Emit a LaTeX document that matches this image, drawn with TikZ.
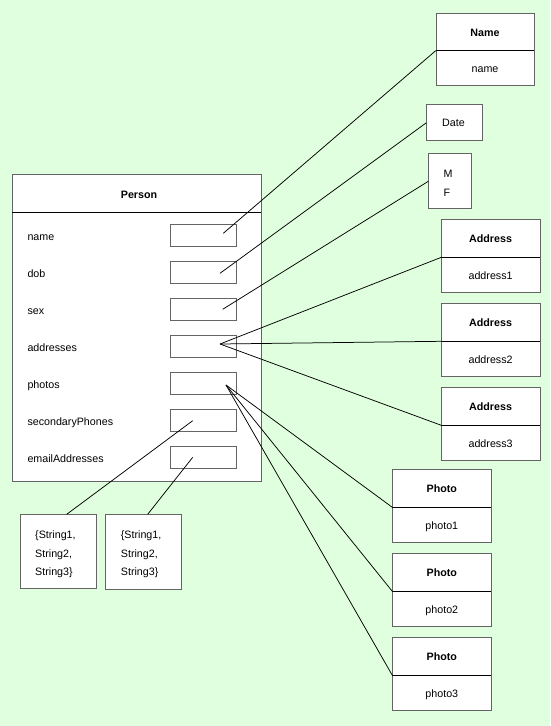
\documentclass[tikz,border=0pt]{standalone}
\usepackage{fontspec}
\setmainfont{Liberation Sans}
\definecolor{bg}{RGB}{224,255,222}
\definecolor{edge}{RGB}{100,100,100}
\begin{document}
\begin{tikzpicture}[x=1pt,y=-1pt,
  box/.style={draw=edge, fill=white, line width=1pt, inner sep=0pt, anchor=north west},
  sepline/.style={draw=black, line width=1pt},
  link/.style={draw=black, line width=0.75pt},
  txt/.style={inner sep=0pt, font=\fontsize{10.7}{13}\selectfont},
  ttl/.style={inner sep=0pt, font=\fontsize{10.7}{13}\selectfont\bfseries},
]
\fill[bg] (0,0) rectangle (550,726);
\useasboundingbox (0,0) rectangle (550,726);

% Person
\node[box, minimum width=249pt, minimum height=306.4pt] (person) at (12.3,174.3) {};
\coordinate (psepL) at (12.3,212.3);
\coordinate (psepR) at (261.3,212.3);
\draw[sepline] (psepL) -- (psepR);
\node[ttl, anchor=base] (ptitle) at (139,198) {Person};
\foreach \lbl [count=\i from 0] in {name,dob,sex,addresses,photos,secondaryPhones,emailAddresses} {
  \node[txt, anchor=base west] (lbl\i) at (27.3,240.5+37*\i) {\lbl};
  \node[box, minimum width=66pt, minimum height=22pt] (slot\i) at (170,224.3+37*\i) {};
}
\coordinate (cname) at (223.3,233.3);
\coordinate (cdob) at (220,273.3);
\coordinate (csex) at (222.7,309.3);
\coordinate (caddr) at (220,344);
\coordinate (cphoto) at (226,385);
\coordinate (cphones) at (192.7,420.7);
\coordinate (cemail) at (192.7,457.3);

% Name
\node[box, minimum width=98.6pt, minimum height=72.6pt] (namebox) at (435.7,12.7) {};
\coordinate (namesepL) at (435.7,50.7);
\coordinate (namesepR) at (534.3,50.7);
\draw[sepline] (namesepL) -- (namesepR);
\node[ttl, anchor=base] (nametitle) at (485,36.2) {Name};
\node[txt, anchor=base] (nameval) at (485,72.5) {name};

% Date
\node[box, minimum width=56pt, minimum height=36pt] (datebox) at (426.3,104.3) {};
\node[txt, anchor=base] (datetxt) at (453.5,126.5) {Date};

% M F
\node[box, minimum width=43pt, minimum height=55pt] (mfbox) at (428.3,153.3) {};
\node[txt, anchor=base west] (mtxt) at (443.5,177) {M};
\node[txt, anchor=base west] (ftxt) at (443.5,196) {F};

% Addresses
\foreach \t/\n in {219.3/1,303.3/2,387.3/3} {
  \node[box, minimum width=98.7pt, minimum height=72.7pt] (addr\n) at (441.3,\t) {};
  \coordinate (addrsep\n) at (441.3,\t+38);
  \coordinate (addrsepR\n) at (540,\t+38);
  \draw[sepline] (addrsep\n) -- (addrsepR\n);
  \node[ttl, anchor=base] (addrtitle\n) at (490.6,\t+23.5) {Address};
  \node[txt, anchor=base] (addrval\n) at (490.6,\t+59.8) {address\n};
}

% Photos
\foreach \t/\n in {469.3/1,553.3/2,637.3/3} {
  \node[box, minimum width=99pt, minimum height=73pt] (photo\n) at (392.3,\t) {};
  \coordinate (photosep\n) at (392.3,\t+38);
  \coordinate (photosepR\n) at (491.3,\t+38);
  \draw[sepline] (photosep\n) -- (photosepR\n);
  \node[ttl, anchor=base] (phototitle\n) at (441.8,\t+23.5) {Photo};
  \node[txt, anchor=base] (photoval\n) at (441.8,\t+59.8) {photo\n};
}

% String sets
\node[box, minimum width=76pt, minimum height=74pt] (str1) at (19.7,514.3) {};
\node[box, minimum width=76pt, minimum height=74.7pt] (str2) at (105.3,514.3) {};
\foreach \b/\s [count=\k] in {538.5/{\{String1,},557/{String2,},575.5/{String3\}}} {
  \node[txt, anchor=base west] (sa\k) at (35,\b) {\s};
  \node[txt, anchor=base west] (sb\k) at (120.7,\b) {\s};
}
\coordinate (str1top) at (66.7,514.3);
\coordinate (str2top) at (147.7,514.3);

% Connectors
\draw[link] (cname) -- (namesepL);
\draw[link] (cdob) -- (datebox.west);
\draw[link] (csex) -- (mfbox.west);
\draw[link] (caddr) -- (addrsep1);
\draw[link] (caddr) -- (addrsep2);
\draw[link] (caddr) -- (addrsep3);
\draw[link] (cphoto) -- (photosep1);
\draw[link] (cphoto) -- (photosep2);
\draw[link] (cphoto) -- (photosep3);
\draw[link] (cphones) -- (str1top);
\draw[link] (cemail) -- (str2top);
\end{tikzpicture}
\end{document}
